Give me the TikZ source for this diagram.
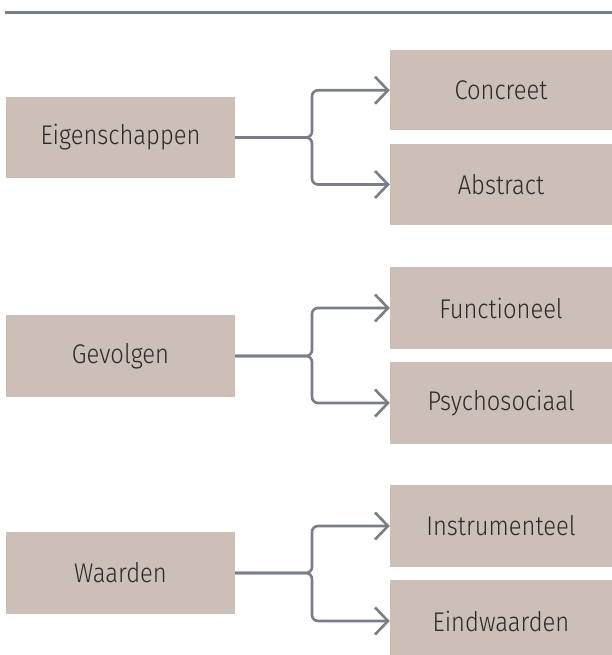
\documentclass[tikz,border=0pt]{standalone}
\usepackage{fontspec}
\setmainfont{Fira Sans}[UprightFont=* Light, FakeStretch=0.88]
\usetikzlibrary{arrows.meta}
\definecolor{boxfill}{HTML}{CBBFB7}
\definecolor{linecol}{HTML}{787D88}
\definecolor{txtcol}{HTML}{2A2A2A}
\tikzset{
  stepbox/.style={fill=boxfill, draw=none, inner sep=0pt, text=txtcol,
    font=\fontsize{27}{31}\selectfont},
  link/.style={draw=linecol, line width=2.6pt, rounded corners=6pt,
    -{Straight Barb[length=13pt,width=27pt,line width=2.6pt]}},
}
\begin{document}
\begin{tikzpicture}[x=1pt,y=-1pt]
\useasboundingbox (0,0) rectangle (612,655);
\clip (0,0) rectangle (612,655);
\coordinate (ls) at (5,13);
\coordinate (le) at (612,13);
\draw[linecol, line width=3pt] (ls) -- (le);
\coordinate (vx) at (312,0);
% group 1
\node[stepbox, minimum width=229pt, minimum height=81pt] (eig) at (120.5,137.5) {Eigenschappen};
\node[stepbox, minimum width=222pt, minimum height=80.5pt] (con) at (501,90.25) {Concreet};
\node[stepbox, minimum width=222pt, minimum height=81pt] (abs) at (501,184.5) {Abstract};
% group 2
\node[stepbox, minimum width=229pt, minimum height=82pt] (gev) at (120.5,356) {Gevolgen};
\node[stepbox, minimum width=222pt, minimum height=82pt] (fun) at (501,308) {Functioneel};
\node[stepbox, minimum width=222pt, minimum height=82pt] (psy) at (501,403) {Psychosociaal};
% group 3
\node[stepbox, minimum width=229pt, minimum height=82pt] (waa) at (120.5,573) {Waarden};
\node[stepbox, minimum width=222pt, minimum height=82pt] (ins) at (501,526) {Instrumenteel};
\node[stepbox, minimum width=222pt, minimum height=82pt] (ein) at (501,621) {Eindwaarden};
% connectors
\foreach \src/\up/\dn in {eig/con/abs, gev/fun/psy, waa/ins/ein}{
  \draw[link] (\src.east) -- (\src.east -| vx) -- (vx |- \up.west) -- (\up.west);
  \draw[link] (\src.east) -- (\src.east -| vx) -- (vx |- \dn.west) -- (\dn.west);
}
\end{tikzpicture}
\end{document}
